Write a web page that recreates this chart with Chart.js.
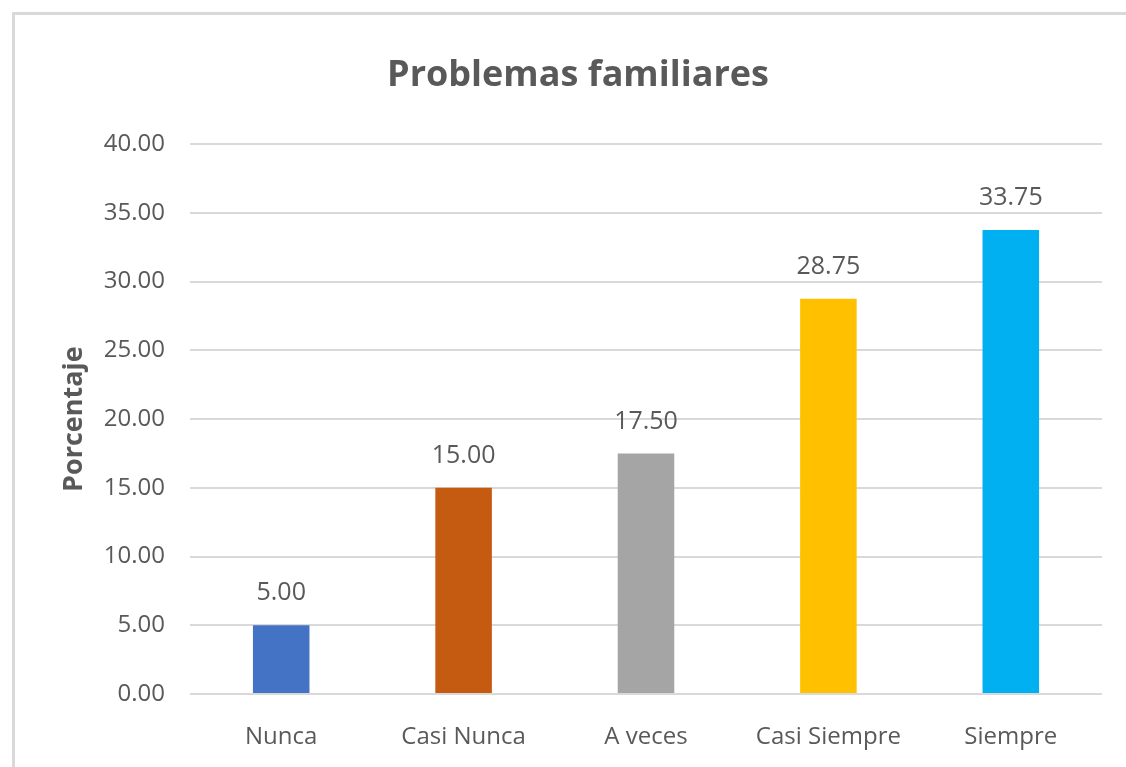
<!DOCTYPE html>
<html>
<head>
<meta charset="utf-8">
<script src="https://cdn.jsdelivr.net/npm/chart.js@4"></script>
<style>
  html, body { margin: 0; padding: 0; background: #fff; overflow: hidden; }
  #marco { position: absolute; left: 12px; top: 12px; width: 1300px; height: 900px; border: 3px solid #d9d9d9; box-sizing: border-box; }
  #lienzo { position: absolute; left: 0; top: 0; width: 1126px; height: 767px; }
</style>
</head>
<body>
<div id="marco"></div>
<div id="lienzo"><canvas id="graficoProblemas"></canvas></div>
<script>
const categorias = ["Nunca", "Casi Nunca", "A veces", "Casi Siempre", "Siempre"];
const porcentajes = [5.00, 15.00, 17.50, 28.75, 33.75];
const colores = ["#4472C4", "#C55A11", "#A5A5A5", "#FFC000", "#00B0F0"];
const titulo = "Problemas familiares";
const tituloEje = "Porcentaje";

const fuente = "'Open Sans', 'Liberation Sans', sans-serif";
const gris = "#595959";

// etiquetas con el valor encima de cada barra
const etiquetasValor = {
  id: "etiquetasValor",
  afterDatasetsDraw(chart) {
    const ctx = chart.ctx;
    const meta = chart.getDatasetMeta(0);
    ctx.save();
    ctx.font = "25px " + fuente;
    ctx.fillStyle = gris;
    ctx.textAlign = "center";
    ctx.textBaseline = "middle";
    meta.data.forEach((barra, i) => {
      ctx.fillText(porcentajes[i].toFixed(2), barra.x, barra.y - 32);
    });
    ctx.restore();
  }
};

const ctx = document.getElementById("graficoProblemas").getContext("2d");
new Chart(ctx, {
  type: "bar",
  data: {
    labels: categorias,
    datasets: [
      {
        data: porcentajes,
        backgroundColor: colores,
        borderWidth: 0,
        categoryPercentage: 1,
        barPercentage: 0.31,
      },
    ],
  },
  options: {
    responsive: true,
    maintainAspectRatio: false,
    animation: false,
    layout: { padding: { left: 54, right: 24, top: 0, bottom: 0 } },
    plugins: {
      legend: { display: false },
      tooltip: { enabled: false },
      title: {
        display: true,
        text: titulo,
        color: gris,
        font: { family: fuente, size: 36, weight: "bold" },
        padding: { top: 54, bottom: 47 },
      },
    },
    scales: {
      x: {
        grid: { display: false, drawTicks: false },
        border: { display: false },
        ticks: {
          color: gris,
          font: { family: fuente, size: 24 },
          padding: 29,
        },
        afterFit(scale) {
          scale.height = 73;
        },
      },
      y: {
        min: 0,
        max: 40,
        grid: { color: "#d9d9d9", lineWidth: 2, drawTicks: false },
        border: { display: false },
        ticks: {
          stepSize: 5,
          color: gris,
          font: { family: fuente, size: 24 },
          padding: 25,
          callback: (v) => v.toFixed(2),
        },
        title: {
          display: true,
          text: tituloEje,
          color: gris,
          font: { family: fuente, size: 27, weight: "bold" },
          padding: { top: 4, bottom: 0 },
        },
        afterFit(scale) {
          scale.width = 136;
        },
      },
    },
  },
  plugins: [etiquetasValor],
});
</script>
</body>
</html>
